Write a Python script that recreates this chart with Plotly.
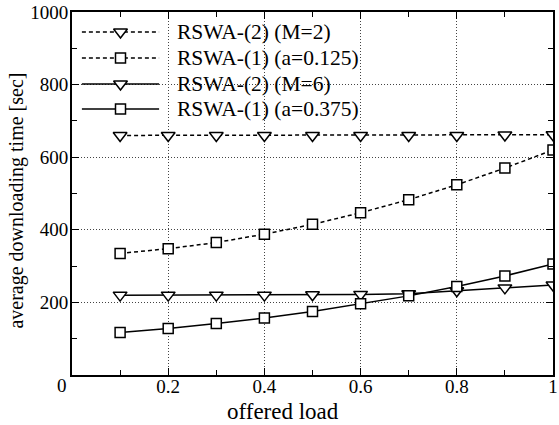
import plotly.graph_objects as go

load = [0.1, 0.2, 0.3, 0.4, 0.5, 0.6, 0.7, 0.8, 0.9, 1.0]
rswa2_m2 = [660, 660, 660, 660, 660, 660, 660, 660, 661, 662]
rswa1_a0125 = [335, 348, 365, 388, 415, 447, 483, 524, 570, 620]
rswa2_m6 = [220, 220, 220, 220, 221, 222, 224, 232, 240, 248]
rswa1_a0375 = [117, 128, 142, 157, 175, 196, 218, 244, 273, 306]

names = ["RSWA-(2) (M=2)", "RSWA-(1) (a=0.125)", "RSWA-(2) (M=6)", "RSWA-(1) (a=0.375)"]
series = [rswa2_m2, rswa1_a0125, rswa2_m6, rswa1_a0375]
symbols = ["triangle-down", "square", "triangle-down", "square"]
dashes = ["4px,3px", "4px,3px", "solid", "solid"]

x_ticks = [0.2, 0.4, 0.6, 0.8, 1.0]
x_ticklabels = ["0.2", "0.4", "0.6", "0.8", "1"]
y_ticks = [200, 400, 600, 800, 1000]
y_ticklabels = ["200", "400", "600", "800", "1000"]

FONT = "Liberation Serif"
W, H = 559, 425
ML, MR, MT, MB = 72, 1, 12, 50
PW, PH = W - ML - MR, H - MT - MB

def msize(sym):
    return 12 if "triangle" in sym else 10

fig = go.Figure()
for nm, ys, sym, dsh in zip(names, series, symbols, dashes):
    fig.add_trace(go.Scatter(
        x=load, y=ys, mode="lines+markers", name=nm, showlegend=False,
        line=dict(color="black", width=1.5, dash=dsh),
        marker=dict(symbol=sym, size=msize(sym),
                    color="white", line=dict(color="black", width=1.5)),
    ))

# manual legend (long sample lines as in the reference)
def px2x(px):
    return (px - ML) / PW

def py2y(py):
    return (MT + PH - py) / PH

row_px = [32, 58, 84, 109]
for i, (nm, sym, dsh) in enumerate(zip(names, symbols, dashes)):
    yy = py2y(row_px[i])
    fig.add_trace(go.Scatter(
        x=[px2x(82), px2x(160)], y=[yy, yy], mode="lines", xaxis="x2", yaxis="y2",
        showlegend=False, hoverinfo="skip",
        line=dict(color="black", width=1.5, dash=dsh)))
    fig.add_trace(go.Scatter(
        x=[px2x(121)], y=[yy], mode="markers", xaxis="x2", yaxis="y2",
        showlegend=False, hoverinfo="skip",
        marker=dict(symbol=sym, size=msize(sym),
                    color="white", line=dict(color="black", width=1.5))))
    fig.add_annotation(x=px2x(176), y=yy, xref="x2", yref="y2", text=nm,
                       showarrow=False, xanchor="left", yanchor="middle",
                       font=dict(family=FONT, size=21.5, color="black"))

axis_common = dict(
    showline=True, linecolor="black", linewidth=2, mirror="ticks",
    ticks="inside", ticklen=7, tickwidth=1.2, tickcolor="black",
    showgrid=True, gridcolor="#444", gridwidth=1, griddash="1px,2px",
    zeroline=False, ticklabeloverflow="allow",
    tickfont=dict(family=FONT, size=19, color="black"),
)

fig.update_layout(
    width=W, height=H,
    margin=dict(l=ML, r=MR, t=MT, b=MB),
    paper_bgcolor="white", plot_bgcolor="white",
    showlegend=False,
    font=dict(family=FONT, color="black"),
    xaxis=dict(range=[0, 1], tickvals=x_ticks, ticktext=x_ticklabels,
               minor=dict(tickvals=[0.1, 0.3, 0.5, 0.7, 0.9], ticklen=5,
                          ticks="inside", tickcolor="black", tickwidth=1.2, showgrid=False),
               ticklabelstandoff=-7,
               **axis_common),
    yaxis=dict(range=[0, 1000], tickvals=y_ticks, ticktext=y_ticklabels,
               minor=dict(tickvals=[100, 300, 500, 700, 900], ticklen=5,
                          ticks="inside", tickcolor="black", tickwidth=1.2, showgrid=False),
               ticklabelstandoff=-2,
               **axis_common),
    xaxis2=dict(range=[0, 1], overlaying="x", visible=False, fixedrange=True),
    yaxis2=dict(range=[0, 1], overlaying="y", visible=False, fixedrange=True),
)

fig.add_annotation(x=px2x(15), y=py2y(201), xref="paper", yref="paper",
                   text="average downloading time [sec]", textangle=-90,
                   showarrow=False, xanchor="center", yanchor="middle",
                   font=dict(family=FONT, size=20, color="black"))
fig.add_annotation(x=px2x(285.5), y=py2y(411), xref="paper", yref="paper",
                   text="offered load", showarrow=False, xanchor="center", yanchor="middle",
                   font=dict(family=FONT, size=23, color="black"))
fig.add_annotation(x=px2x(62), y=py2y(385), xref="paper", yref="paper",
                   text="0", showarrow=False, xanchor="center", yanchor="middle",
                   font=dict(family=FONT, size=19, color="black"))

fig.write_html("out.html")
